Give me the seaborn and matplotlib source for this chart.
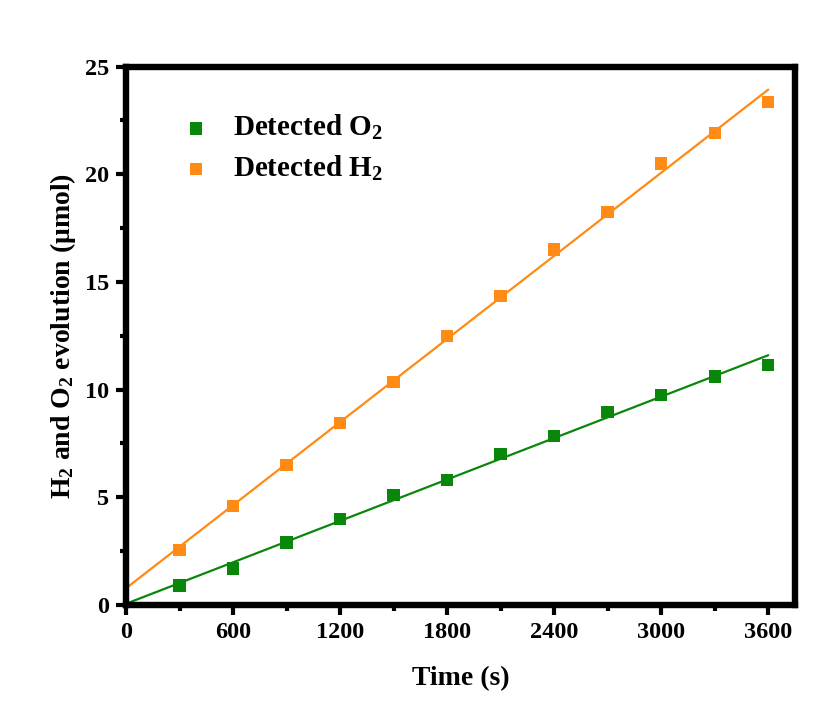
import numpy as np
import pandas as pd
import matplotlib
matplotlib.use("Agg")
import matplotlib.pyplot as plt
from matplotlib.ticker import MultipleLocator
import seaborn as sns

# data
time_s = [300, 600, 900, 1200, 1500, 1800, 2100, 2400, 2700, 3000, 3300, 3600]
o2_umol = [0.9, 1.7, 2.9, 4.0, 5.1, 5.8, 7.0, 7.85, 8.95, 9.75, 10.6, 11.15]
h2_umol = [2.55, 4.6, 6.5, 8.45, 10.35, 12.5, 14.35, 16.5, 18.25, 20.5, 21.9, 23.35]

green = "#0a870a"
orange = "#ff8a14"

sns.set_style("ticks", {"axes.edgecolor": "black", "text.color": "black",
                        "axes.labelcolor": "black", "xtick.color": "black",
                        "ytick.color": "black"})
plt.rcParams["font.family"] = ["Liberation Serif", "DejaVu Serif"]
plt.rcParams["font.weight"] = "bold"
plt.rcParams["mathtext.fontset"] = "custom"
plt.rcParams["mathtext.rm"] = "Liberation Serif:bold"
plt.rcParams["mathtext.default"] = "regular"

df = pd.DataFrame({"time": time_s, "O2": o2_umol, "H2": h2_umol})

fig = plt.figure(figsize=(8.17, 7.03), dpi=100)
ax = fig.add_axes([0.1542, 0.1394, 0.9731 - 0.1542, 0.9054 - 0.1394])

# linear fits drawn from 0 to the last point
xfit = np.array([0, time_s[-1]])
for col, c in [("O2", green), ("H2", orange)]:
    k, b = np.polyfit(df["time"], df[col], 1)
    sns.lineplot(x=xfit, y=k * xfit + b, color=c, lw=1.6, ax=ax)

sns.scatterplot(data=df, x="time", y="O2", marker="s", s=80, color=green,
                edgecolor="none", label=r"Detected O$_2$", ax=ax)
sns.scatterplot(data=df, x="time", y="H2", marker="s", s=80, color=orange,
                edgecolor="none", label=r"Detected H$_2$", ax=ax)

ax.set_xlim(0, 3750)
ax.set_ylim(0, 25)
ax.xaxis.set_major_locator(MultipleLocator(600))
ax.xaxis.set_minor_locator(MultipleLocator(300))
ax.yaxis.set_major_locator(MultipleLocator(5))
ax.yaxis.set_minor_locator(MultipleLocator(2.5))

for s in ax.spines.values():
    s.set_visible(True)
    s.set_linewidth(4.6)
    s.set_color("black")
ax.tick_params(which="major", direction="out", length=7, width=3, labelsize=17.5,
               pad=5, colors="black")
ax.tick_params(which="minor", direction="out", length=4.5, width=3, colors="black")
for lab in ax.get_xticklabels() + ax.get_yticklabels():
    lab.set_fontweight("bold")

ax.set_xlabel("Time (s)", fontsize=20, fontweight="bold", labelpad=17)
ax.set_ylabel(r"H$_2$ and O$_2$ evolution (μmol)", fontsize=20, fontweight="bold", labelpad=5)

ax.legend(loc="upper left", bbox_to_anchor=(0.022, 0.962), frameon=False,
          prop={"size": 21, "weight": "bold"}, handletextpad=0.25,
          labelspacing=0.38, markerscale=1.0)

fig.savefig("out.png", dpi=100, facecolor="white")
